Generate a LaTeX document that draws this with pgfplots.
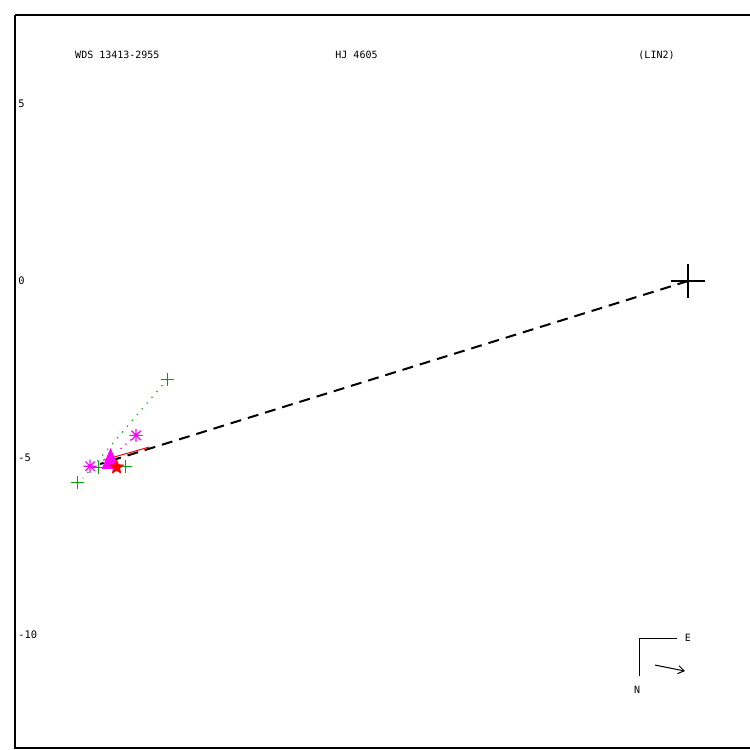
\documentclass[border=0pt]{standalone}
\usepackage{pgfplots}
\pgfplotsset{compat=1.18}
\usepackage{fontspec}
\setmonofont{DejaVu Sans Mono}
\usetikzlibrary{arrows.meta}
\definecolor{mgreen}{RGB}{0,165,0}
\definecolor{mmag}{RGB}{255,0,255}
\definecolor{mred}{RGB}{255,0,0}
% filled five-pointed star
\pgfdeclareplotmark{fstar}{%
  \pgfpathmoveto{\pgfqpointpolar{90}{\pgfplotmarksize}}%
  \pgfpathlineto{\pgfqpointpolar{126}{0.45\pgfplotmarksize}}%
  \pgfpathlineto{\pgfqpointpolar{162}{\pgfplotmarksize}}%
  \pgfpathlineto{\pgfqpointpolar{198}{0.45\pgfplotmarksize}}%
  \pgfpathlineto{\pgfqpointpolar{234}{\pgfplotmarksize}}%
  \pgfpathlineto{\pgfqpointpolar{270}{0.45\pgfplotmarksize}}%
  \pgfpathlineto{\pgfqpointpolar{306}{\pgfplotmarksize}}%
  \pgfpathlineto{\pgfqpointpolar{342}{0.45\pgfplotmarksize}}%
  \pgfpathlineto{\pgfqpointpolar{18}{\pgfplotmarksize}}%
  \pgfpathlineto{\pgfqpointpolar{54}{0.45\pgfplotmarksize}}%
  \pgfpathclose
  \pgfusepathqfillstroke}
% eight-armed asterisk
\pgfdeclareplotmark{asterisk8}{%
  \pgfpathmoveto{\pgfqpoint{-\pgfplotmarksize}{0pt}}\pgfpathlineto{\pgfqpoint{\pgfplotmarksize}{0pt}}%
  \pgfpathmoveto{\pgfqpoint{0pt}{-\pgfplotmarksize}}\pgfpathlineto{\pgfqpoint{0pt}{\pgfplotmarksize}}%
  \pgfpathmoveto{\pgfqpointpolar{45}{\pgfplotmarksize}}\pgfpathlineto{\pgfqpointpolar{225}{\pgfplotmarksize}}%
  \pgfpathmoveto{\pgfqpointpolar{135}{\pgfplotmarksize}}\pgfpathlineto{\pgfqpointpolar{315}{\pgfplotmarksize}}%
  \pgfusepathqstroke}
\begin{document}
\begin{tikzpicture}
\useasboundingbox (0,0) rectangle (375pt,375pt);
\begin{axis}[
  at={(7.5pt,1pt)}, anchor=south west,
  scale only axis, width=368.5pt, height=366.5pt,
  xmin=-19.01, xmax=1.808, ymin=-13.19, ymax=7.514,
  axis line style={draw=none},
  xtick=\empty,
  ytick={-10,-5,0,5},
  major tick length=0pt,
  yticklabel style={anchor=west, font=\ttfamily\fontsize{5.2}{6}\selectfont, inner sep=1.5pt},
  /pgf/number format/assume math mode=true,
  clip=false,
]
% frame: left, top and bottom edges
\draw[line width=0.6pt] (rel axis cs:0,1) -- (rel axis cs:0,0) -- (rel axis cs:1,0);
\draw[line width=0.6pt] (rel axis cs:0,1) -- (rel axis cs:1,1);

% header
\node[anchor=west, font=\ttfamily\fontsize{5}{6}\selectfont, inner sep=0pt] at (axis cs:-17.32,6.38) {WDS 13413-2955};
\node[anchor=west, font=\ttfamily\fontsize{5}{6}\selectfont, inner sep=0pt] at (axis cs:-9.97,6.38) {HJ 4605};
\node[anchor=west, font=\ttfamily\fontsize{5}{6}\selectfont, inner sep=0pt] at (axis cs:-1.41,6.38) {(LIN2)};

% measures and their residual links
\addplot[mgreen, line width=0.6pt, dash pattern=on 0.6pt off 3.2pt] coordinates {(-14.71,-2.78) (-17.09,-5.57)};
\addplot[only marks, mark=+, mark size=3.2pt, mgreen, mark options={line width=0.6pt}]
  coordinates {(-14.71,-2.78) (-17.25,-5.70) (-16.66,-5.26) (-15.88,-5.23)};

\addplot[mmag, line width=0.6pt, dash pattern=on 0.6pt off 2.6pt] coordinates {(-15.59,-4.36) (-16.10,-4.80)};
\addplot[only marks, mark=asterisk8, mark size=3.3pt, mmag, mark options={line width=0.6pt}]
  coordinates {(-15.59,-4.36) (-16.89,-5.23)};
\addplot[only marks, mark=triangle*, mark size=4.8pt, mmag, mark options={yscale=1.35, fill=mmag}]
  coordinates {(-16.31,-5.11)};

% line from the primary
\addplot[black, line width=1pt, dash pattern=on 5.5pt off 3.5pt] coordinates {(0,0) (-16.61,-5.17)};

% red
\addplot[mred, line width=0.5pt] coordinates {(-16.52,-5.06) (-15.22,-4.69)};
\addplot[only marks, mark=fstar, mark size=3.6pt, mred, mark options={fill=mred, line width=0.3pt}]
  coordinates {(-16.14,-5.26)};

% primary
\addplot[only marks, mark=+, mark size=8.5pt, black, mark options={line width=1pt}]
  coordinates {(0,0)};

% orientation
\draw[line width=0.5pt] (axis cs:-0.311,-10.085) -- (axis cs:-1.356,-10.085) -- (axis cs:-1.356,-11.158);
\node[font=\ttfamily\fontsize{5}{6}\selectfont, inner sep=0pt] at (axis cs:0,-10.085) {E};
\node[font=\ttfamily\fontsize{5}{6}\selectfont, inner sep=0pt] at (axis cs:-1.44,-11.55) {N};
\draw[line width=0.5pt, -{Straight Barb[length=3pt,width=4pt]}] (axis cs:-0.932,-10.847) -- (axis cs:-0.085,-11.017);
\end{axis}
\end{tikzpicture}
\end{document}
